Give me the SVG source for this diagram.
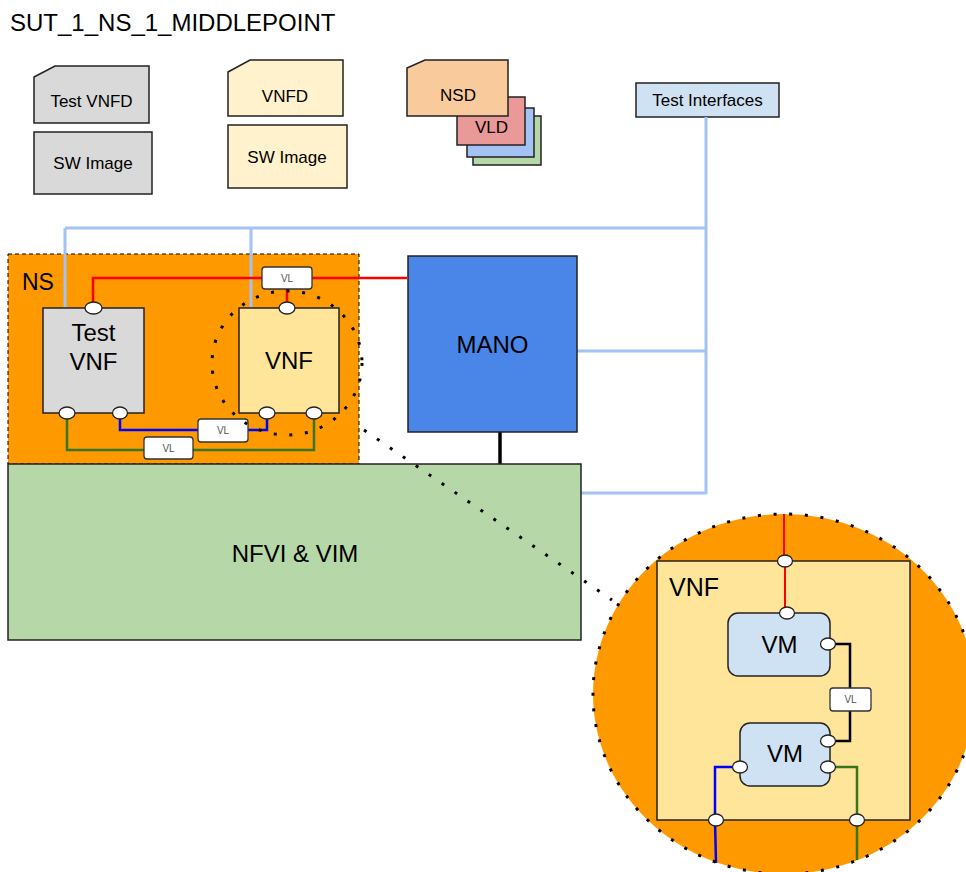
<svg xmlns="http://www.w3.org/2000/svg" width="966" height="872" viewBox="0 0 966 872">
<style>
text{font-family:"Liberation Sans",Arial,sans-serif;fill:#000}
.sm{font-size:17px}
.lg{font-size:24px}
.vl{font-size:10px;fill:#555}
.box{stroke:#222;stroke-width:1.5}
.port{fill:#fff;stroke:#222;stroke-width:1.3}
.vlb{fill:#fff;stroke:#333;stroke-width:1.3}
.ti{fill:none;stroke:#a4c2f4;stroke-width:3}
.dot{fill:none;stroke:#000;stroke-width:3;stroke-dasharray:3 12.7}
</style>
<rect width="966" height="872" fill="#fff"/>
<text x="10" y="31" style="font-size:24px">SUT_1_NS_1_MIDDLEPOINT</text>

<g id="test-vnfd">
<path class="box" d="M34,77 L55,66 L149,66 L149,123 L34,123 Z" fill="#d9d9d9"/>
<text class="sm" x="91.5" y="107" text-anchor="middle">Test VNFD</text>
</g>
<g id="test-sw-image">
<rect class="box" x="34" y="132" width="118" height="62" fill="#d9d9d9"/>
<text class="sm" x="93" y="169" text-anchor="middle">SW Image</text>
</g>
<g id="vnfd">
<path class="box" d="M228,72 L250,60 L343,60 L343,116 L228,116 Z" fill="#fff2cc"/>
<text class="sm" x="285" y="102" text-anchor="middle">VNFD</text>
</g>
<g id="sw-image">
<rect class="box" x="228" y="125" width="119" height="63" fill="#fff2cc"/>
<text class="sm" x="287" y="163" text-anchor="middle">SW Image</text>
</g>
<g id="descriptors">
<rect class="box" x="473" y="116" width="68" height="49" fill="#b6d7a8"/>
<rect class="box" x="467" y="108" width="67" height="49" fill="#a4c2f4"/>
<rect class="box" x="457" y="97" width="68" height="48" fill="#ea9999"/>
<text class="sm" x="491.5" y="133" text-anchor="middle">VLD</text>
<path class="box" d="M407,68 L425,60 L508,60 L508,116 L407,116 Z" fill="#f9cb9c"/>
<text class="sm" x="458" y="101" text-anchor="middle">NSD</text>
</g>
<g id="test-interfaces">
<rect class="box" x="636" y="83" width="143" height="34" fill="#cfe2f3"/>
<text class="sm" x="707.5" y="106" text-anchor="middle">Test Interfaces</text>
</g>

<g id="ns">
<rect x="8" y="254" width="351" height="210" fill="#ff9900" stroke="#000" stroke-width="1" stroke-dasharray="4 3"/>
<text x="22" y="290" style="font-size:23px">NS</text>
</g>

<g id="connectors">
<path class="ti" d="M706,117 V494 M65,228 H706 M65,228 V308 M251,228 V308 M577,351 H706 M581,493 H706"/>
<path d="M93,308 V278 H407" fill="none" stroke="#ff0000" stroke-width="2.5"/>
<path d="M287,278 V302" fill="none" stroke="#ff0000" stroke-width="2.5"/>
<path d="M120,413 V430 H267 V413" fill="none" stroke="#0000ff" stroke-width="2.5"/>
<path d="M67,413 V450 H314 V413" fill="none" stroke="#38761d" stroke-width="2.5"/>
<path d="M500,432 V464" fill="none" stroke="#000" stroke-width="3.5"/>
</g>

<g id="test-vnf">
<rect class="box" x="43" y="308" width="101" height="105" fill="#d9d9d9"/>
<text class="lg" x="93.5" y="341" text-anchor="middle">Test</text>
<text class="lg" x="93.5" y="370" text-anchor="middle">VNF</text>
<ellipse class="port" cx="93.5" cy="308" rx="8.5" ry="6"/>
<ellipse class="port" cx="67" cy="413" rx="8" ry="6"/>
<ellipse class="port" cx="120" cy="413" rx="7.5" ry="6"/>
</g>
<g id="vnf">
<rect class="box" x="239" y="308" width="100" height="105" fill="#ffe599"/>
<text class="lg" x="289" y="369" text-anchor="middle">VNF</text>
<ellipse class="port" cx="287" cy="308" rx="8" ry="6"/>
<ellipse class="port" cx="267" cy="413" rx="8" ry="6"/>
<ellipse class="port" cx="314" cy="413" rx="8" ry="6"/>
</g>
<g id="vl-labels">
<rect class="vlb" x="262" y="267" width="50" height="22" rx="3"/>
<text class="vl" x="287" y="282" text-anchor="middle">VL</text>
<rect class="vlb" x="198" y="419" width="50" height="23" rx="3"/>
<text class="vl" x="223" y="434" text-anchor="middle">VL</text>
<rect class="vlb" x="144" y="437" width="49" height="22" rx="3"/>
<text class="vl" x="168.5" y="452" text-anchor="middle">VL</text>
</g>

<g id="mano">
<rect class="box" x="408" y="256" width="169" height="176" fill="#4a86e8"/>
<text class="lg" x="492.5" y="353" text-anchor="middle">MANO</text>
</g>
<g id="nfvi-vim">
<rect class="box" x="8" y="464" width="573" height="176" fill="#b6d7a8"/>
<text class="lg" x="295" y="562" text-anchor="middle">NFVI &amp; VIM</text>
</g>

<g id="zoom-detail">
<ellipse cx="784" cy="694" rx="191" ry="180" fill="#ff9900"/>
<rect class="box" x="657" y="561" width="253" height="259" fill="#ffe599"/>
<text x="669" y="596" style="font-size:25px">VNF</text>
<path d="M784,514 V561 M785,561 V613" fill="none" stroke="#ff0000" stroke-width="2"/>
<path d="M828,644 H850 V741 H828" fill="none" stroke="#000" stroke-width="2.5"/>
<path d="M740,767 H715 V820 L716,863" fill="none" stroke="#0000ff" stroke-width="2.5"/>
<path d="M828,767 H857 V820 V860" fill="none" stroke="#38761d" stroke-width="2.5"/>
<g id="vm1">
<rect class="box" x="728" y="613" width="102" height="63" rx="10" fill="#cfe2f3"/>
<text class="lg" x="779.5" y="653" text-anchor="middle">VM</text>
</g>
<g id="vm2">
<rect class="box" x="740" y="723" width="90" height="63" rx="10" fill="#cfe2f3"/>
<text class="lg" x="785" y="762" text-anchor="middle">VM</text>
</g>
<rect class="vlb" x="830" y="688" width="41" height="23" rx="3"/>
<text class="vl" x="850.5" y="703" text-anchor="middle">VL</text>
<ellipse class="port" cx="785" cy="561" rx="7.5" ry="6"/>
<ellipse class="port" cx="787" cy="613" rx="7.5" ry="6"/>
<ellipse class="port" cx="828" cy="644" rx="7.5" ry="6"/>
<ellipse class="port" cx="828" cy="741" rx="7.5" ry="6"/>
<ellipse class="port" cx="828" cy="767" rx="7.5" ry="6"/>
<ellipse class="port" cx="740" cy="767" rx="7.5" ry="6"/>
<ellipse class="port" cx="716" cy="820" rx="7.5" ry="6"/>
<ellipse class="port" cx="857" cy="820" rx="7.5" ry="6"/>
</g>

<g id="zoom-marks">
<ellipse class="dot" cx="287" cy="363" rx="75" ry="72"/>
<path class="dot" d="M364,430 L612,600"/>
<ellipse class="dot" cx="784" cy="694" rx="191" ry="180"/>
</g>
</svg>
